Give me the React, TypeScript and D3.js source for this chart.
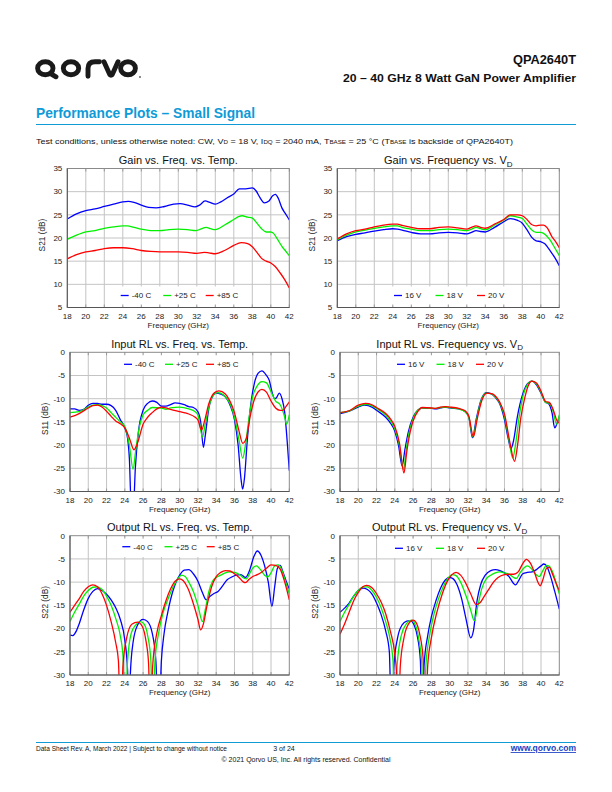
import React from 'react';
import * as d3 from 'd3';

type Pt = [number, number];

const freqTicks = [18, 20, 22, 24, 26, 28, 30, 32, 34, 36, 38, 40, 42];
const gainTicks = [5, 10, 15, 20, 25, 30, 35];
const rlTicks = [-30, -25, -20, -15, -10, -5, 0];
const tempLabels = ['-40 C', '+25 C', '+85 C'];
const voltLabels = ['16 V', '18 V', '20 V'];
const seriesColors = ['#0000ff', '#00f000', '#ff0000'];

const gainTempM40: Pt[] = [[18,24.1],[19,25.2],[20,25.9],[21,26.3],[22,26.8],[23,27.3],[24,27.8],[24.6,27.9],[25.2,27.7],[26,27.1],[26.8,26.6],[27.6,26.5],[28.5,26.8],[29.5,27.3],[30.2,27.4],[31,27.1],[31.8,26.7],[32.3,27.1],[32.9,28.0],[33.4,27.7],[34,27.3],[34.6,27.8],[35.3,28.7],[36,29.5],[36.6,30.6],[37.3,30.6],[38,30.8],[38.4,30.2],[38.8,28.8],[39.3,27.6],[39.8,28.0],[40.2,29.1],[40.5,29.4],[40.8,28.6],[41.2,26.5],[41.6,25.2],[42,23.9]];
const gainTemp25: Pt[] = [[18,19.7],[19,20.6],[20,21.3],[21,21.6],[22,22.1],[23,22.4],[24,22.6],[24.5,22.6],[25.2,22.3],[26,21.9],[27,21.6],[28,21.6],[29,21.8],[30,21.9],[31,21.8],[31.9,21.6],[32.4,21.9],[33,22.3],[33.5,22.0],[34,21.8],[35,22.8],[36,24.0],[36.5,24.6],[36.9,24.8],[37.5,24.5],[38,24.3],[38.5,23.2],[39,22.0],[39.5,21.3],[40,21.3],[40.3,21.0],[40.7,19.8],[41.2,18.2],[41.6,17.2],[42,16.2]];
const gainTemp85: Pt[] = [[18,15.5],[19,16.4],[20,17.0],[21,17.3],[22,17.7],[23,17.9],[24,17.9],[25,17.7],[26,17.3],[27,17.1],[28,17.0],[29,17.0],[30,17.0],[31,16.9],[32,16.7],[32.8,16.9],[33.3,16.8],[34,16.6],[35,17.3],[36,18.4],[36.8,19.0],[37.5,18.8],[38,18.1],[38.5,16.9],[39,15.6],[39.5,15.0],[40,14.6],[40.5,13.8],[41,12.5],[41.5,11.0],[42,9.2]];

const gainV16: Pt[] = [[18,19.4],[19,20.3],[20,20.8],[21,21.1],[22,21.5],[23,21.8],[24,22.0],[24.5,21.9],[25,21.7],[26,21.2],[27,20.9],[28,20.9],[29,21.1],[30,21.2],[31,21.1],[32,20.9],[32.5,21.2],[33,21.6],[33.5,21.4],[34,21.3],[35,22.3],[36,23.5],[36.7,24.2],[37.5,23.8],[38,23.2],[38.5,21.8],[39,20.2],[39.5,19.4],[40,19.2],[40.4,18.8],[41,17.3],[41.5,15.8],[42,14.0]];
const gainV18: Pt[] = [[18,19.6],[19,20.6],[20,21.3],[21,21.7],[22,22.1],[23,22.4],[24,22.6],[24.5,22.6],[25,22.3],[26,21.9],[27,21.6],[28,21.6],[29,21.8],[30,21.9],[31,21.8],[32,21.6],[32.5,21.9],[33,22.3],[33.5,22.0],[34,21.8],[35,22.8],[36,23.9],[36.7,24.8],[37.5,24.5],[38,24.2],[38.5,23.0],[39,21.8],[39.5,21.2],[40,21.2],[40.3,21.0],[41,19.6],[41.5,17.9],[42,16.2]];
const gainV20: Pt[] = [[18,19.8],[19,20.9],[20,21.6],[21,21.9],[22,22.4],[23,22.8],[24,23.0],[24.5,23.0],[25,22.7],[26,22.3],[27,22.0],[28,22.0],[29,22.3],[30,22.4],[31,22.2],[32,21.9],[32.5,22.3],[33,22.6],[33.5,22.3],[34,22.1],[35,23.0],[36,24.0],[36.7,25.0],[37.5,25.0],[38,24.8],[38.5,24.0],[39,22.9],[39.5,22.6],[40,22.8],[40.3,22.8],[40.7,22.2],[41.2,20.3],[41.6,19.2],[42,17.9]];

const inTempM40: Pt[] = [[18,-12.2],[18.5,-12.2],[19,-12.5],[19.5,-12.3],[20,-11.4],[20.5,-11.0],[21,-11.0],[21.5,-11.2],[22,-11.2],[22.5,-11.5],[23,-12.5],[23.5,-14.5],[24,-16.3],[24.3,-18.5],[24.5,-23],[24.7,-33],[24.95,-33],[25.15,-25],[25.5,-17],[26,-12.5],[26.5,-11.0],[27,-10.5],[27.5,-10.8],[28,-11.6],[28.5,-11.6],[29,-11.3],[29.5,-10.9],[30,-11.0],[30.5,-11.3],[31,-11.7],[31.5,-11.9],[32,-12.8],[32.3,-15],[32.6,-20.5],[32.8,-18],[33.2,-12],[33.6,-9.5],[34,-8.8],[34.5,-9.0],[35,-9.6],[35.5,-11.3],[36,-14.5],[36.4,-20],[36.7,-27],[36.9,-29.5],[37.1,-27],[37.4,-19],[37.8,-11],[38.2,-6.5],[38.6,-4.5],[39,-4.0],[39.5,-5.0],[39.8,-6.0],[40.1,-8.5],[40.4,-10.0],[40.6,-9.8],[40.9,-8.8],[41.2,-10.0],[41.5,-13],[41.8,-20],[42,-25.5]];
const inTemp25: Pt[] = [[18,-13.0],[19,-12.8],[20,-11.8],[20.5,-11.4],[21,-11.3],[21.5,-11.5],[22,-12.0],[22.5,-13.0],[23,-14.0],[23.5,-15.0],[24,-16.0],[24.5,-20],[24.9,-25.2],[25.2,-21],[25.6,-16],[26,-13.5],[26.5,-12.5],[27,-11.9],[28,-12.0],[28.5,-12.3],[29,-12.0],[30,-11.8],[31,-12.2],[31.7,-12.8],[32,-13.5],[32.5,-18.2],[32.8,-15.5],[33.3,-11],[33.8,-9.0],[34.2,-8.7],[34.8,-9.2],[35.5,-11],[36,-14],[36.5,-19],[36.9,-22.8],[37.2,-20],[37.6,-14],[38,-9.5],[38.5,-7.2],[39,-6.3],[39.5,-6.6],[40,-8.5],[40.5,-10.5],[41,-11.3],[41.5,-14.0],[41.7,-15.5],[42,-13.5]];
const inTemp85: Pt[] = [[18,-14.0],[19,-13.2],[20,-12.0],[20.5,-11.5],[21,-11.4],[21.5,-11.8],[22,-12.7],[22.5,-13.8],[23,-14.8],[23.5,-15.4],[24,-16.3],[24.5,-18.5],[25,-21],[25.4,-19.5],[26,-15.5],[26.5,-14],[27,-13],[27.5,-12.2],[28,-11.8],[28.5,-12.0],[29,-12.3],[30,-12.8],[31,-13.3],[31.7,-14],[32,-14.6],[32.4,-16.8],[32.7,-15],[33.2,-11],[33.8,-8.7],[34.3,-8.3],[35,-9.0],[35.5,-10.5],[36,-13],[36.5,-17],[36.9,-19.6],[37.3,-18.5],[37.7,-14],[38.2,-10],[38.6,-8.5],[39,-8.0],[39.5,-8.6],[40,-10.5],[40.5,-12.0],[41,-12.5],[41.3,-12.5],[41.7,-11.5],[42,-10.7]];

const inV16: Pt[] = [[18,-13.2],[19,-12.7],[20,-11.8],[20.7,-11.4],[21.5,-11.8],[22,-12.5],[23,-14.0],[23.5,-15.2],[24,-17.0],[24.4,-20],[24.8,-24.5],[25.1,-21],[25.5,-17],[26,-14],[26.5,-12.5],[27,-12.0],[28,-12.1],[28.5,-12.2],[29,-12.0],[29.5,-11.8],[30,-12.0],[31,-12.2],[31.7,-12.8],[32.1,-14],[32.5,-18.4],[32.9,-14.5],[33.4,-10.5],[34,-8.7],[34.5,-8.9],[35,-9.7],[35.5,-11.2],[36,-14.5],[36.4,-18.5],[36.7,-20.8],[37.0,-19],[37.4,-14],[38,-9],[38.5,-6.8],[39,-6.2],[39.5,-7.0],[40,-8.8],[40.5,-10.8],[40.8,-11.0],[41.2,-13],[41.5,-16.3],[41.8,-15],[42,-13.8]];
const inV18: Pt[] = [[18,-13.0],[19,-12.7],[20,-11.6],[20.8,-11.2],[21.5,-11.5],[22,-12.1],[23,-13.5],[23.5,-14.7],[24,-16.5],[24.5,-20],[24.95,-25.3],[25.25,-21],[25.6,-17],[26,-14.3],[26.5,-12.5],[27,-12.0],[28,-12.1],[28.5,-12.1],[29,-11.9],[29.5,-11.8],[30,-11.9],[31,-12.2],[31.7,-12.8],[32.1,-14],[32.55,-18.3],[32.95,-14.5],[33.4,-10.7],[34,-8.8],[34.5,-8.9],[35,-9.6],[35.5,-11],[36,-13.8],[36.5,-19],[36.9,-22.8],[37.2,-20],[37.6,-14],[38,-9.6],[38.5,-7.0],[39,-6.2],[39.5,-6.8],[40,-8.6],[40.5,-10.8],[40.9,-11.0],[41.3,-12.5],[41.7,-15.5],[42,-13.5]];
const inV20: Pt[] = [[18,-13.0],[19,-12.6],[20,-11.4],[20.8,-11.0],[21.5,-11.3],[22,-11.9],[23,-13.2],[23.5,-14.3],[24,-16.0],[24.5,-19.5],[25.0,-26.0],[25.3,-21.5],[25.7,-17],[26,-14.8],[26.5,-12.8],[27,-11.9],[28,-12.0],[28.5,-12.1],[29,-11.8],[29.5,-11.7],[30,-11.8],[31,-12.1],[31.7,-12.6],[32.1,-13.8],[32.6,-18.2],[33.0,-14.5],[33.5,-10.5],[34.1,-8.8],[34.6,-8.9],[35,-9.4],[35.5,-10.8],[36,-13.3],[36.6,-19.5],[37.1,-23.5],[37.4,-20.5],[37.8,-14],[38.2,-10],[38.6,-7.2],[39,-6.2],[39.5,-6.6],[40,-8.4],[40.5,-10.6],[40.9,-10.8],[41.3,-12.2],[41.9,-15.2],[42,-14.8]];

const outTempM40: Pt[] = [[18,-21.4],[18.3,-21.5],[18.7,-20.5],[19,-19],[19.5,-16],[20,-13.5],[20.5,-12.0],[21,-11.4],[21.5,-11.8],[22,-12.6],[22.5,-13.8],[23,-15.5],[23.5,-18],[24,-22.5],[24.3,-29],[24.45,-42],[24.6,-30],[24.9,-23],[25.4,-19.2],[26,-18.0],[26.5,-18.5],[27,-21],[27.4,-27],[27.7,-42],[28.0,-27],[28.3,-21],[28.7,-16.5],[29,-13.8],[29.5,-10.5],[30,-8.5],[30.5,-7.4],[31,-7.3],[31.5,-8.2],[32,-9.8],[32.5,-12.3],[32.9,-13.8],[33.3,-13.1],[33.8,-12.4],[34.2,-12.0],[34.7,-10.8],[35.2,-9.5],[35.7,-8.9],[36.2,-8.5],[36.7,-8.4],[37.2,-9.0],[37.7,-7.2],[38.1,-4.6],[38.5,-3.3],[38.9,-4.2],[39.3,-6.5],[39.7,-10],[40.1,-15.2],[40.4,-11],[40.7,-7],[41,-6.4],[41.3,-7.8],[41.7,-10],[42,-11.5]];
const outTemp25: Pt[] = [[18,-18.5],[18.5,-16.5],[19,-14.8],[19.5,-13],[20,-11.8],[20.5,-11.1],[21,-11.0],[21.5,-11.6],[22,-13.0],[22.5,-15],[23,-17.8],[23.5,-21.5],[23.8,-26],[24.0,-42],[24.3,-27],[24.7,-21],[25.2,-19.2],[25.7,-18.5],[26.1,-19],[26.5,-21.5],[26.85,-27],[27.05,-42],[27.3,-27],[27.7,-21],[28.2,-16.5],[28.7,-13.8],[29.3,-11],[29.8,-9.3],[30.2,-8.5],[30.6,-8.8],[31,-10],[31.5,-12],[32,-15],[32.5,-18.5],[32.8,-16],[33.2,-12],[33.6,-9.8],[34,-9],[34.5,-8.5],[35,-8.0],[35.5,-7.8],[36,-7.9],[36.5,-8.3],[37,-9.1],[37.3,-9.3],[37.7,-8],[38,-7],[38.4,-6.5],[38.8,-7.2],[39.3,-8.5],[39.6,-8.9],[40,-8],[40.4,-6.5],[40.8,-6.3],[41.2,-7.5],[41.6,-10],[42,-12.5]];
const outTemp85: Pt[] = [[18,-16.5],[18.5,-15],[19,-13.6],[19.5,-12],[20,-11.0],[20.5,-10.6],[21,-11.0],[21.5,-12.5],[22,-15],[22.5,-18.5],[23,-23],[23.3,-27],[23.55,-42],[23.8,-28],[24.2,-22],[24.8,-19],[25.4,-18.6],[25.9,-19.5],[26.3,-22.5],[26.6,-27.5],[26.8,-42],[27.05,-28],[27.5,-21],[28,-17.2],[28.5,-14],[29,-11.5],[29.5,-9.8],[30,-9.3],[30.4,-9.7],[30.9,-11.3],[31.4,-14],[32,-18],[32.3,-20.3],[32.6,-19],[33,-15],[33.5,-11],[34,-8.8],[34.5,-7.9],[35,-7.5],[35.5,-7.6],[36,-8.2],[36.5,-9],[37,-10],[37.2,-10.1],[37.6,-9.4],[38,-8.8],[38.5,-8.4],[39,-7.8],[39.5,-7],[40,-6.3],[40.5,-6.4],[41,-7.2],[41.5,-10],[42,-13.8]];

const outV16: Pt[] = [[18,-16.5],[18.5,-15.6],[19,-14.5],[19.5,-13],[20,-11.8],[20.5,-11.3],[21,-11.6],[21.5,-12.6],[22,-14.5],[22.5,-17],[23,-20.5],[23.4,-25],[23.65,-42],[23.9,-28],[24.3,-22],[24.8,-19.2],[25.3,-18.4],[25.7,-18.3],[26.1,-19.2],[26.5,-22],[26.8,-27],[26.95,-42],[27.2,-28],[27.6,-21.5],[28,-17.5],[28.5,-14],[29,-11.3],[29.5,-9.6],[30,-9.0],[30.4,-9.3],[30.8,-10.5],[31.3,-13.5],[31.8,-18],[32.3,-22],[32.6,-20.5],[33,-14],[33.4,-10.5],[33.9,-8.5],[34.5,-7.5],[35,-7.3],[35.5,-7.5],[36,-8],[36.5,-8.8],[37,-10.3],[37.2,-10.6],[37.6,-9.5],[38,-8.2],[38.5,-7.9],[39,-7.8],[39.5,-7.3],[40,-6.5],[40.3,-6.1],[40.6,-6.5],[41,-8.5],[41.5,-12],[42,-15.8]];
const outV18: Pt[] = [[18,-18.5],[18.5,-16.5],[19,-14.8],[19.5,-13],[20,-11.8],[20.5,-11.0],[21,-11.0],[21.5,-11.8],[22,-13.3],[22.5,-15.5],[23,-18.5],[23.5,-22.5],[23.8,-27],[24.0,-42],[24.25,-28],[24.7,-21.5],[25.3,-18.9],[25.8,-18.2],[26.2,-19],[26.6,-22],[26.95,-27.5],[27.15,-42],[27.4,-28],[27.8,-21.5],[28.3,-16.8],[28.8,-13.5],[29.3,-11],[29.8,-9.2],[30.3,-8.4],[30.7,-8.6],[31.2,-10],[31.8,-13],[32.3,-16],[32.7,-18.3],[33.1,-15],[33.5,-11.5],[34,-9.3],[34.5,-8.5],[35,-8.0],[35.5,-7.8],[36,-8.0],[36.5,-8.3],[37,-9.0],[37.3,-9.2],[37.7,-8],[38.1,-7],[38.5,-6.5],[38.9,-7],[39.4,-8.3],[39.8,-8.8],[40.2,-7.5],[40.6,-6.4],[40.9,-6.6],[41.3,-8],[41.7,-10.5],[42,-12.5]];
const outV20: Pt[] = [[18,-21.2],[18.5,-19],[19,-16.5],[19.5,-14],[20,-12.2],[20.5,-11.0],[20.9,-10.7],[21.5,-11.2],[22,-12.5],[22.5,-14.3],[23,-16.8],[23.5,-20.5],[24,-25.5],[24.2,-30],[24.35,-42],[24.6,-28],[25,-22],[25.5,-19],[26,-18.2],[26.3,-18.6],[26.7,-21],[27.1,-26.5],[27.35,-42],[27.6,-28],[28,-22],[28.6,-16.5],[29.2,-12.5],[29.7,-10],[30.2,-8.5],[30.7,-7.9],[31.2,-8.5],[31.7,-10],[32.3,-12.5],[32.9,-14.8],[33.3,-14.5],[33.8,-13],[34.3,-11.5],[34.8,-10],[35.3,-9],[36,-8.4],[36.5,-8.3],[37,-8.3],[37.5,-7.8],[38,-6],[38.4,-5.1],[38.8,-5.8],[39.3,-8],[39.7,-10.2],[39.9,-10.8],[40.2,-9.5],[40.6,-7],[40.9,-6.8],[41.3,-8.5],[41.7,-10.5],[42,-11.8]];

const FONT = '"Liberation Sans", Arial, Helvetica, sans-serif';
const BLUE = '#0f9ad8';

type ChartProps = {
  id: string;
  left: number; right: number; top: number; bottom: number;
  yDomain: [number, number];
  yTicks: number[];
  title: string;
  titleSub?: string;
  yLabel: string;
  data: Pt[][];
  labels: string[];
  legendX: number;
  legendY: number;
  legendStep: number;
  box: [number, number, number, number];
};

function Chart(p: ChartProps) {
  const x = d3.scaleLinear().domain([18, 42]).range([p.left, p.right]);
  const y = d3.scaleLinear().domain(p.yDomain).range([p.bottom, p.top]);
  const line = d3.line<Pt>().x(d => x(d[0])).y(d => y(d[1])).curve(d3.curveMonotoneX);
  const cx = (p.left + p.right) / 2;
  const cy = (p.top + p.bottom) / 2;
  const grid = '#c4c4c4';
  return (
    <g fontFamily={FONT}>
      <defs>
        <clipPath id={p.id}>
          <rect x={p.left} y={p.top} width={p.right - p.left} height={p.bottom - p.top} />
        </clipPath>
      </defs>
      <rect x={p.left} y={p.top} width={p.right - p.left} height={p.bottom - p.top} fill="#fff" />
      {freqTicks.slice(1, -1).map(t => (
        <line key={'v' + t} x1={x(t)} x2={x(t)} y1={p.top} y2={p.bottom} stroke={grid} strokeWidth={1} />
      ))}
      {p.yTicks.slice(1, -1).map(t => (
        <line key={'h' + t} x1={p.left} x2={p.right} y1={y(t)} y2={y(t)} stroke={grid} strokeWidth={1} />
      ))}
      <rect x={p.box[0]} y={p.box[1]} width={p.box[2]} height={p.box[3]} fill="#fff" />
      {freqTicks.map(t => (
        <g key={'t' + t}>
          <line x1={x(t)} x2={x(t)} y1={p.bottom} y2={p.bottom - 3} stroke="#999" />
          <line x1={x(t)} x2={x(t)} y1={p.top} y2={p.top + 3} stroke="#999" />
        </g>
      ))}
      <g clipPath={`url(#${p.id})`}>
        {p.data.map((s, i) => (
          <path key={i} d={line(s) || ''} fill="none" stroke={seriesColors[i]} strokeWidth={1.3} />
        ))}
      </g>
      <rect x={p.left} y={p.top} width={p.right - p.left} height={p.bottom - p.top} fill="none" stroke="#8a8a8a" strokeWidth={1} />
      <line x1={p.left} x2={p.left} y1={p.top} y2={p.bottom} stroke="#555" strokeWidth={1} />
      <line x1={p.left} x2={p.right} y1={p.bottom} y2={p.bottom} stroke="#555" strokeWidth={1} />
      {p.labels.map((l, i) => (
        <g key={l}>
          <line x1={p.legendX + i * p.legendStep} x2={p.legendX + i * p.legendStep + 8} y1={p.legendY} y2={p.legendY} stroke={seriesColors[i]} strokeWidth={1.3} />
          <text x={p.legendX + i * p.legendStep + 11} y={p.legendY + 2.8} fontSize={8} fill="#222">{l}</text>
        </g>
      ))}
      {p.yTicks.map(t => (
        <text key={'yl' + t} x={p.left - 5} y={y(t) + 2.8} fontSize={8} textAnchor="end" fill="#222">{String(t)}</text>
      ))}
      {freqTicks.map(t => (
        <text key={'xl' + t} x={x(t)} y={p.bottom + 11} fontSize={8} textAnchor="middle" fill="#222">{String(t)}</text>
      ))}
      <text x={cx} y={p.bottom + 20} fontSize={8} textAnchor="middle" fill="#222">Frequency (GHz)</text>
      <text transform={`translate(${p.left - 22},${cy - 3}) rotate(-90)`} fontSize={8.3} textAnchor="middle" fill="#222">{p.yLabel}</text>
      <text x={cx} y={p.top - 4.5} fontSize={11} textAnchor="middle" fill="#111">
        {p.title}
        {p.titleSub ? <tspan fontSize={8} dy={2.5}>{p.titleSub}</tspan> : null}
      </text>
    </g>
  );
}

function Logo() {
  const sw = 4.9;
  return (
    <g fill="none" stroke="#1a1a1a" strokeWidth={sw} strokeLinecap="round">
      <ellipse cx={45.3} cy={68.3} rx={7.7} ry={6.5} />
      <path d="M51 73.8 L56 76.8" />
      <ellipse cx={71} cy={68.3} rx={7.7} ry={6.5} />
      <path d="M88 76.3 V68.5 Q88 61.8 95 61.8 H99.5" />
      <path d="M104 61.8 L109.5 74 Q111 76.8 112.5 74 L118 61.8" />
      <ellipse cx={128} cy={68.3} rx={7.4} ry={6.5} />
      <circle cx={140} cy={77} r={0.9} fill="#555" stroke="none" />
    </g>
  );
}

export default function App() {
  const L1 = 67.3, R1 = 289.3, L2 = 337.3, R2 = 559.3;
  const L3 = 70, R3 = 289.3, L4 = 340, R4 = 559.3;
  return (
    <svg width={612} height={792} viewBox="0 0 612 792" style={{ position: 'absolute', left: 0, top: 0, background: '#fff' }}>
      <rect width={612} height={792} fill="#fff" />
      <Logo />
      <text x={576} y={63.5} textAnchor="end" fontFamily={FONT} fontWeight="bold" fontSize={12.8} fill="#111">QPA2640T</text>
      <text x={576} y={81.5} textAnchor="end" fontFamily={FONT} fontWeight="bold" fontSize={11} fill="#111" textLength={233} lengthAdjust="spacingAndGlyphs">20 – 40 GHz 8 Watt GaN Power Amplifier</text>
      <text x={36} y={118} fontFamily={FONT} fontWeight="bold" fontSize={14} fill={BLUE} textLength={219} lengthAdjust="spacingAndGlyphs">Performance Plots – Small Signal</text>
      <line x1={36} x2={576} y1={124.5} y2={124.5} stroke={BLUE} strokeWidth={1} />
      <text x={36} y={144} fontFamily={FONT} fontSize={8} fill="#111" textLength={477} lengthAdjust="spacingAndGlyphs">
        Test conditions, unless otherwise noted: CW, V<tspan fontSize={5.5}>D</tspan> = 18 V, I<tspan fontSize={5.5}>DQ</tspan> = 2040 mA, T<tspan fontSize={5.5}>BASE</tspan> = 25 °C (T<tspan fontSize={5.5}>BASE</tspan> is backside of QPA2640T)
      </text>

      <Chart id="c1" left={L1} right={R1} top={168.5} bottom={307.5} yDomain={[5, 35]} yTicks={gainTicks}
        title="Gain vs. Freq. vs. Temp." yLabel="S21 (dB)" data={[gainTempM40, gainTemp25, gainTemp85]} labels={tempLabels}
        legendX={120.7} legendY={295.5} legendStep={42.5} box={[112, 286.5, 133, 20]} />
      <Chart id="c2" left={L2} right={R2} top={168.5} bottom={307.5} yDomain={[5, 35]} yTicks={gainTicks}
        title="Gain vs. Frequency vs. V" titleSub="D" yLabel="S21 (dB)" data={[gainV16, gainV18, gainV20]} labels={voltLabels}
        legendX={394} legendY={295.5} legendStep={41.5} box={[379, 286.5, 139, 20]} />
      <Chart id="c3" left={L3} right={R3} top={352.3} bottom={491.5} yDomain={[-30, 0]} yTicks={rlTicks}
        title="Input RL vs. Freq. vs. Temp." yLabel="S11 (dB)" data={[inTempM40, inTemp25, inTemp85]} labels={tempLabels}
        legendX={124} legendY={364.3} legendStep={41} box={[117, 353.5, 128, 21]} />
      <Chart id="c4" left={L4} right={R4} top={352.3} bottom={491.5} yDomain={[-30, 0]} yTicks={rlTicks}
        title="Input RL vs. Frequency vs. V" titleSub="D" yLabel="S11 (dB)" data={[inV16, inV18, inV20]} labels={voltLabels}
        legendX={397} legendY={364.3} legendStep={39.5} box={[388, 353.5, 122, 21]} />
      <Chart id="c5" left={L3} right={R3} top={535.7} bottom={675} yDomain={[-30, 0]} yTicks={rlTicks}
        title="Output RL vs. Freq. vs. Temp." yLabel="S22 (dB)" data={[outTempM40, outTemp25, outTemp85]} labels={tempLabels}
        legendX={122.3} legendY={546.7} legendStep={42.2} box={[116, 537, 130, 20]} />
      <Chart id="c6" left={L4} right={R4} top={535.7} bottom={675} yDomain={[-30, 0]} yTicks={rlTicks}
        title="Output RL vs. Frequency vs. V" titleSub="D" yLabel="S22 (dB)" data={[outV16, outV18, outV20]} labels={voltLabels}
        legendX={395} legendY={548.3} legendStep={41} box={[388, 538, 122, 20]} />

      <line x1={36} x2={576} y1={742.5} y2={742.5} stroke={BLUE} strokeWidth={1} />
      <text x={36} y={750.5} fontFamily={FONT} fontSize={7} fill="#111" textLength={191} lengthAdjust="spacingAndGlyphs">Data Sheet Rev. A, March 2022 | Subject to change without notice</text>
      <text x={284} y={750.5} fontFamily={FONT} fontSize={7} fill="#111" textAnchor="middle">3 of 24</text>
      <text x={576} y={751} fontFamily={FONT} fontSize={8.5} fontWeight="bold" fill="#1a3fc4" textAnchor="end" textDecoration="underline">www.qorvo.com</text>
      <text x={306} y={761.5} fontFamily={FONT} fontSize={7} fill="#111" textAnchor="middle">© 2021 Qorvo US, Inc. All rights reserved. Confidential</text>
    </svg>
  );
}
